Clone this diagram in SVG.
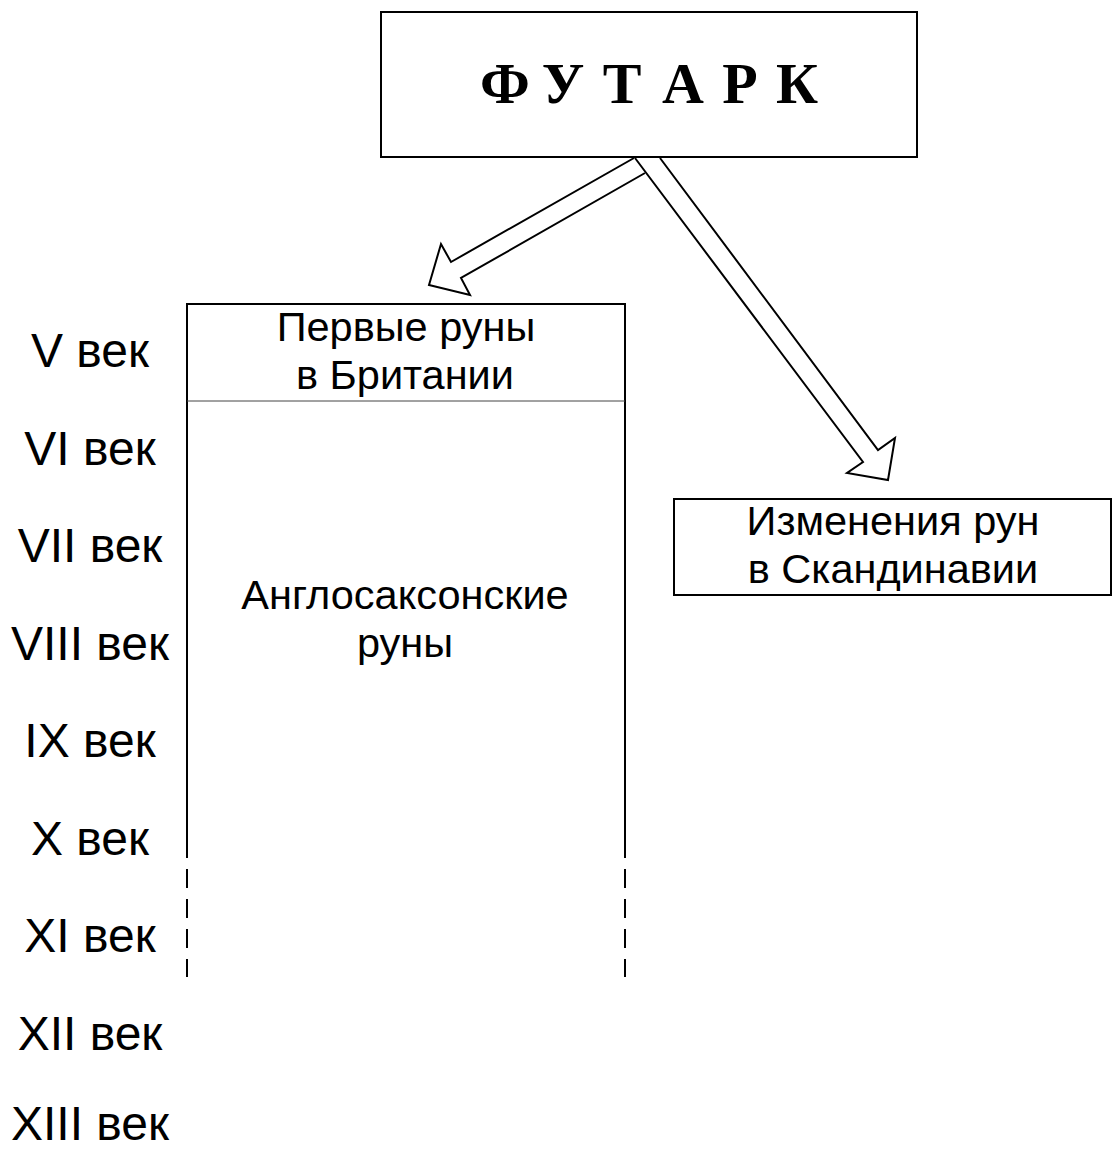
<svg xmlns="http://www.w3.org/2000/svg" width="1113" height="1151" viewBox="0 0 1113 1151">
<style>
.box{fill:#fff;stroke:#000;stroke-width:2}
.ln{fill:none;stroke:#000;stroke-width:2}
.arr{fill:#fff;stroke:#000;stroke-width:2;stroke-linejoin:miter}
.t{font-family:"Liberation Sans",Arial,sans-serif;font-size:41.5px;fill:#000;text-anchor:middle}
.c{font-family:"Liberation Sans",Arial,sans-serif;font-size:48px;fill:#000;text-anchor:middle}
.title{font-family:"Liberation Serif","Times New Roman",serif;font-size:58px;font-weight:bold;fill:#000;text-anchor:middle}
</style>
<rect width="1113" height="1151" fill="#fff"/>
<g id="connectors">
  <path class="arr" d="M645,173 L461,278 L470,295 L429,285 L441,244 L451,262 L634,158"/>
  <path class="arr" d="M635,158 L863,462 L847,473 L888,480 L895,438 L878,450 L660,158"/>
</g>
<g id="futhark">
  <rect class="box" x="381" y="12" width="536" height="145"/>
  <text class="title" x="505 563 622 683 740 797" y="103">ФУТАРК</text>
</g>
<g id="anglo">
  <path class="ln" d="M187,858 L187,304 L625,304 L625,858"/>
  <path class="ln" d="M187,869 L187,977 M625,869 L625,977" stroke-dasharray="19 11"/>
  <line x1="187" y1="401" x2="625" y2="401" stroke="#444" stroke-width="1"/>
  <text class="t" x="406" y="341">Первые руны</text>
  <text class="t" x="405" y="389">в Британии</text>
  <text class="t" x="405" y="609">Англосаксонские</text>
  <text class="t" x="405" y="657">руны</text>
</g>
<g id="scandinavia">
  <rect class="box" x="674" y="499" width="437" height="96"/>
  <text class="t" x="893" y="535">Изменения рун</text>
  <text class="t" x="893" y="583">в Скандинавии</text>
</g>
<g id="centuries">
  <text class="c" x="90" y="367">V век</text>
  <text class="c" x="90" y="464.5">VI век</text>
  <text class="c" x="90" y="562">VII век</text>
  <text class="c" x="90" y="659.5">VIII век</text>
  <text class="c" x="90" y="757">IX век</text>
  <text class="c" x="90" y="854.5">X век</text>
  <text class="c" x="90" y="952">XI век</text>
  <text class="c" x="90" y="1049.5">XII век</text>
  <text class="c" x="90" y="1140">XIII век</text>
</g>
</svg>
